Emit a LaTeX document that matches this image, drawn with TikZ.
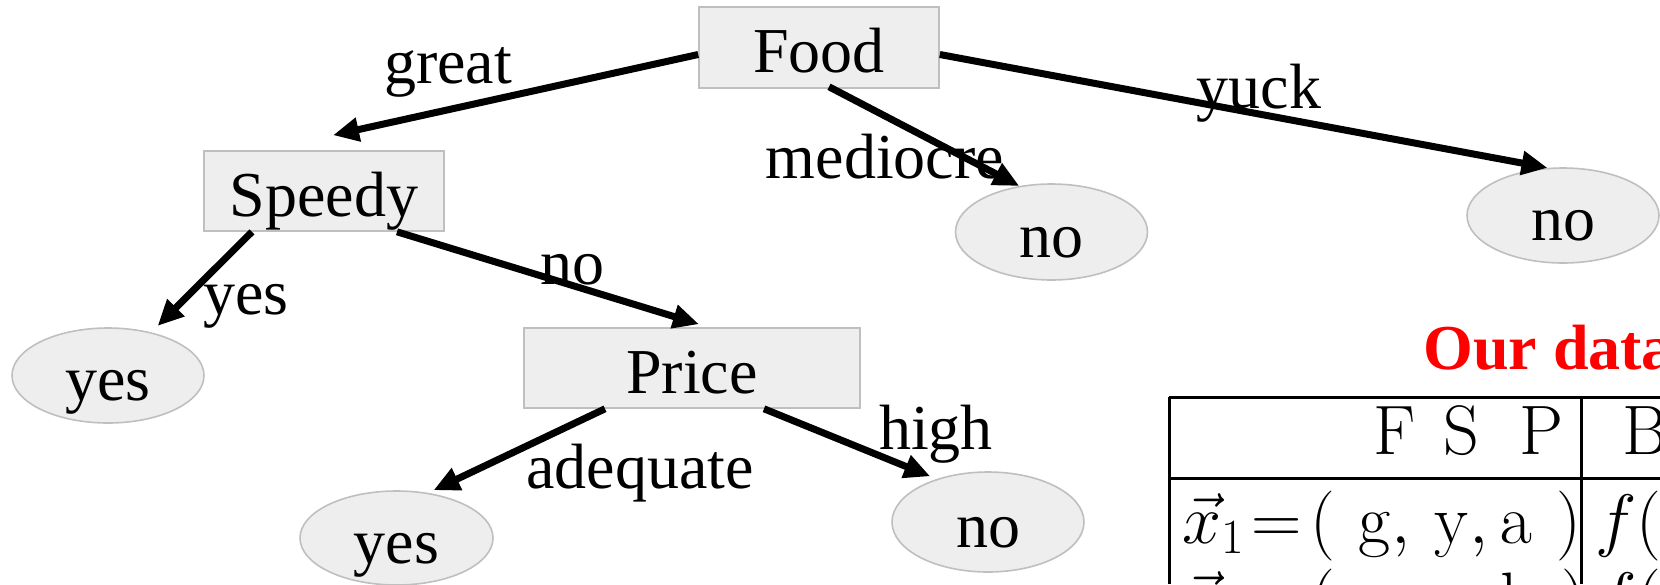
\RequirePackage{fix-cm}
\documentclass[tikz,border=0pt]{standalone}
\usepackage[no-math]{fontspec}
\setmainfont{Liberation Serif}
\usetikzlibrary{arrows.meta,shapes.geometric}
\definecolor{boxfill}{HTML}{EEEEEE}
\definecolor{boxline}{HTML}{BFBFBF}
\newcommand{\tnr}{\fontsize{64}{77}\selectfont}
\newcommand{\cmsize}{\fontsize{70}{84}\selectfont}
\begin{document}
\begin{tikzpicture}[x=1pt,y=-1pt,
  treebox/.style={rectangle, draw=boxline, fill=boxfill, line width=1.6pt, inner sep=0pt,
    text height=50pt, text depth=0pt, font=\tnr},
  leaf/.style={ellipse, draw=boxline, fill=boxfill, line width=1.6pt, inner sep=0pt,
    text height=50pt, text depth=0pt, font=\tnr},
  lbl/.style={inner sep=0pt, anchor=base, font=\tnr},
  arr/.style={line width=7pt, -{Triangle[length=26pt,width=23pt]}},
  tbl/.style={inner sep=0pt, anchor=base west, font=\cmsize},
  rule/.style={line width=3pt}]
\useasboundingbox (0,0) rectangle (1660,584);
\clip (0,0) rectangle (1660,584);

% tree nodes
\node[treebox, minimum width=240pt, minimum height=81pt] (food) at (819,47.5) {Food};
\node[treebox, minimum width=240pt, minimum height=80pt] (speedy) at (324,191) {Speedy};
\node[treebox, minimum width=336pt, minimum height=80pt] (price) at (692,368) {Price};
\node[leaf, minimum width=192pt, minimum height=95pt] (yesL) at (108,375.5) {yes};
\node[leaf, minimum width=192pt, minimum height=96pt] (noMid) at (1051.5,232) {no};
\node[leaf, minimum width=192pt, minimum height=95pt] (noR) at (1563,215.5) {no};
\node[leaf, minimum width=193pt, minimum height=94pt] (yesB) at (396.5,538) {yes};
\node[leaf, minimum width=192pt, minimum height=100pt] (noB) at (988,522) {no};

% edge labels
\node[lbl] (lgreat) at (448,83) {great};
\node[lbl] (lmed) at (885,178) {mediocre};
\node[lbl] (lyuck) at (1259,108) {yuck};
\node[lbl] (lyes) at (246,314) {yes};
\node[lbl] (lno) at (572,284) {no};
\node[lbl] (ladeq) at (640,488) {adequate};
\node[lbl] (lhigh) at (936,449) {high};

% connectors
\draw[arr] ([yshift=-7pt]food.west) -- ([xshift=9pt,yshift=15pt]speedy.north);
\draw[arr] ([xshift=10pt,yshift=2pt]food.south) -- (noMid.125);
\draw[arr] ([yshift=-7pt]food.east) -- (noR.108);
\draw[arr, shorten >=9pt] ([xshift=-72pt]speedy.south) -- (yesL.45);
\draw[arr] ([xshift=73pt]speedy.south) -- ([xshift=7pt,yshift=3pt]price.north);
\draw[arr, shorten >=6pt] ([xshift=-87pt]price.south) -- (yesB.55);
\draw[arr, shorten >=7pt] ([xshift=72pt]price.south) -- (noB.140);

% data table
\node[inner sep=0pt, anchor=base west, font=\tnr\bfseries, text=red] (title) at (1423,369) {Our data};
\coordinate (tl) at (1169,397);
\coordinate (tr) at (1660,397);
\coordinate (hl) at (1169,478);
\coordinate (hr) at (1660,478);
\coordinate (bl) at (1169,584);
\coordinate (vt) at (1581,397);
\coordinate (vb) at (1581,584);
\draw[rule] (tl) -- (tr);
\draw[rule] (hl) -- (hr);
\draw[rule] (tl) -- (bl);
\draw[rule] (vt) -- (vb);
\node[tbl] (hdr) at (1373,454) {$\mathrm{F}\hspace{28pt}\mathrm{S}\hspace{40pt}\mathrm{P}$};
\node[tbl] (hdrB) at (1622,454) {$\mathrm{B}$};
\node[tbl] (row1) at (1182,543) {$\vec{x}_1\!=\!(\hspace{24pt}\mathrm{g},\,\mathrm{y},\mathrm{a}\hspace{25pt})$};
\node[tbl] (f1) at (1595,543) {$f($};
\node[tbl] (row2) at (1182,621) {$\vec{x}_2\!=\!(\hspace{24pt}\mathrm{g},\,\mathrm{n},\mathrm{h}\hspace{25pt})$};
\node[tbl] (f2) at (1595,621) {$f($};
\end{tikzpicture}
\end{document}
